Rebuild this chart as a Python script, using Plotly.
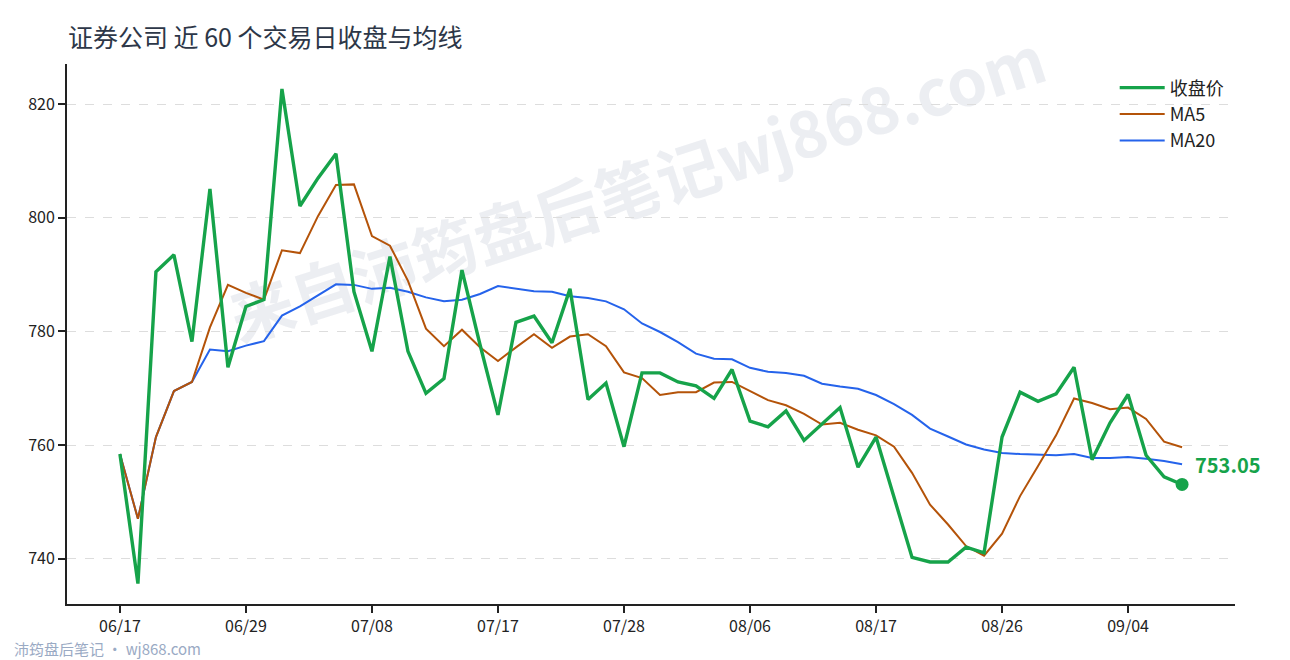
import plotly.graph_objects as go

dates = ["06/17", "06/18", "06/19", "06/20", "06/23", "06/24", "06/26", "06/29",
         "06/30", "07/01", "07/02", "07/03", "07/06", "07/07", "07/08",
         "07/09", "07/10", "07/13", "07/14", "07/15", "07/16", "07/17",
         "07/20", "07/21", "07/22", "07/23", "07/24", "07/27", "07/28",
         "07/29", "07/30", "07/31", "08/03", "08/04", "08/05", "08/06",
         "08/07", "08/10", "08/11", "08/12", "08/13", "08/14", "08/17",
         "08/18", "08/19", "08/20", "08/21", "08/24", "08/25", "08/26",
         "08/27", "08/28", "08/31", "09/01", "09/02", "09/03", "09/04",
         "09/07", "09/08", "09/09"]

close = [758.4, 735.6, 790.5, 793.5, 778.2, 805.1, 773.7, 784.4, 785.6, 822.7,
         802.1, 807.0, 811.3, 787.0, 776.5, 793.2, 776.5, 769.1, 771.7, 790.8,
         777.7, 765.3, 781.6, 782.7, 778.0, 787.5, 768.0, 770.9, 759.7, 772.7,
         772.7, 771.1, 770.4, 768.2, 773.3, 764.2, 763.2, 766.0, 760.8, 763.6,
         766.6, 756.1, 761.4, 750.8, 740.2, 739.4, 739.4, 742.0, 741.0, 761.4,
         769.3, 767.7, 769.0, 773.7, 757.4, 763.9, 768.9, 758.2, 754.4, 753.05]

ma5 = [758.4, 747.0, 761.4, 769.5, 771.1, 780.7, 788.2, 786.8, 785.6, 794.3,
       793.8, 800.3, 805.8, 805.9, 796.8, 795.1, 788.9, 780.5, 777.4, 780.3,
       777.2, 774.8, 777.2, 779.5, 777.1, 779.1, 779.5, 777.4, 772.8, 771.8,
       768.8, 769.3, 769.3, 771.0, 771.1, 769.5, 767.9, 767.0, 765.5, 763.6,
       763.9, 762.7, 761.7, 759.7, 755.1, 749.5, 746.0, 742.2, 740.5, 744.4,
       751.0, 756.3, 761.7, 768.2, 767.4, 766.3, 766.6, 764.6, 760.6, 759.6]

ma20 = [758.4, 747.0, 761.4, 769.5, 771.1, 776.8, 776.5, 777.5, 778.3, 782.8,
        784.4, 786.4, 788.3, 788.2, 787.5, 787.7, 787.0, 786.0, 785.3, 785.6,
        786.6, 788.0, 787.6, 787.1, 787.0, 786.2, 785.9, 785.3, 783.9, 781.4,
        779.9, 778.1, 776.1, 775.2, 775.1, 773.6, 772.9, 772.7, 772.2, 770.8,
        770.3, 769.9, 768.8, 767.2, 765.3, 762.9, 761.5, 760.1, 759.2, 758.6,
        758.4, 758.3, 758.2, 758.4, 757.7, 757.7, 757.9, 757.6, 757.2, 756.6]

tick_labels = ["06/17", "06/29", "07/08", "07/17", "07/28", "08/06", "08/17", "08/26", "09/04"]
y_ticks = [740, 760, 780, 800, 820]

title_text = "证券公司 近 60 个交易日收盘与均线"
watermark_text = "来自沛筠盘后笔记wj868.com"
footer_text = "沛筠盘后笔记 · wj868.com"

GREEN = "#16a34a"
ORANGE = "#b45309"
BLUE = "#2563eb"
FONT = "Noto Sans CJK SC, Noto Sans, sans-serif"

fig = go.Figure()
fig.add_trace(go.Scatter(x=dates, y=ma20, mode="lines", name="MA20",
                         line=dict(color=BLUE, width=2), legendrank=3))
fig.add_trace(go.Scatter(x=dates, y=ma5, mode="lines", name="MA5",
                         line=dict(color=ORANGE, width=2), legendrank=2))
fig.add_trace(go.Scatter(x=dates, y=close, mode="lines", name="收盘价",
                         line=dict(color=GREEN, width=3.4), legendrank=1))
fig.add_trace(go.Scatter(x=[dates[-1]], y=[close[-1]], mode="markers",
                         marker=dict(color=GREEN, size=13), showlegend=False,
                         hoverinfo="skip"))

fig.add_annotation(x=dates[-1], y=close[-1], text="<b>%.2f</b>" % close[-1],
                   showarrow=False, xanchor="left", yanchor="middle",
                   xshift=11, yshift=20,
                   font=dict(family=FONT, size=20, color=GREEN))

fig.add_annotation(xref="paper", yref="paper", x=0.0, y=1.0,
                   text=title_text, showarrow=False, xanchor="left", yanchor="middle",
                   xshift=-1, yshift=28,
                   font=dict(family=FONT, size=25, color="#2d3748"))

fig.add_annotation(xref="paper", yref="paper", x=0, y=0, text=footer_text,
                   showarrow=False, xanchor="left", yanchor="middle",
                   xshift=-55, yshift=-44,
                   font=dict(family=FONT, size=15, color="#9aaac4"))

fig.add_shape(type="rect", xref="paper", yref="paper", x0=0.18, x1=0.80, y0=0.584, y1=0.934,
              line=dict(width=0), fillcolor="rgba(0,0,0,0)", layer="below",
              label=dict(text=watermark_text, textangle=-18, textposition="middle center",
                         font=dict(family=FONT, size=64, color="rgba(200,205,218,0.35)",
                                   weight="bold")))

fig.update_layout(
    width=1282, height=652,
    margin=dict(l=59, r=55, t=56, b=56),
    paper_bgcolor="white", plot_bgcolor="white",
    font=dict(family=FONT, size=16, color="#222"),
    showlegend=True,
    legend=dict(x=0.897, y=0.99, xanchor="left", yanchor="top",
                bgcolor="rgba(0,0,0,0)", font=dict(size=18, color="#222"),
                tracegroupgap=0, itemwidth=45),
)
fig.update_xaxes(type="category", range=[-2.94, 61.94],
                 tickmode="array", tickvals=tick_labels, ticktext=tick_labels,
                 showgrid=False, zeroline=False,
                 showline=True, linecolor="#222", linewidth=2,
                 ticks="outside", ticklen=7, tickwidth=2, tickcolor="#222",
                 tickfont=dict(size=16, color="#222"))
fig.update_yaxes(range=[732.0, 827.1], tickmode="array", tickvals=y_ticks,
                 showgrid=True, gridcolor="#dddddd", griddash="dash", gridwidth=1,
                 zeroline=False, showline=True, linecolor="#222", linewidth=2,
                 ticks="outside", ticklen=7, tickwidth=2, tickcolor="#222",
                 tickfont=dict(size=16, color="#222"))

fig.write_html("out.html")
